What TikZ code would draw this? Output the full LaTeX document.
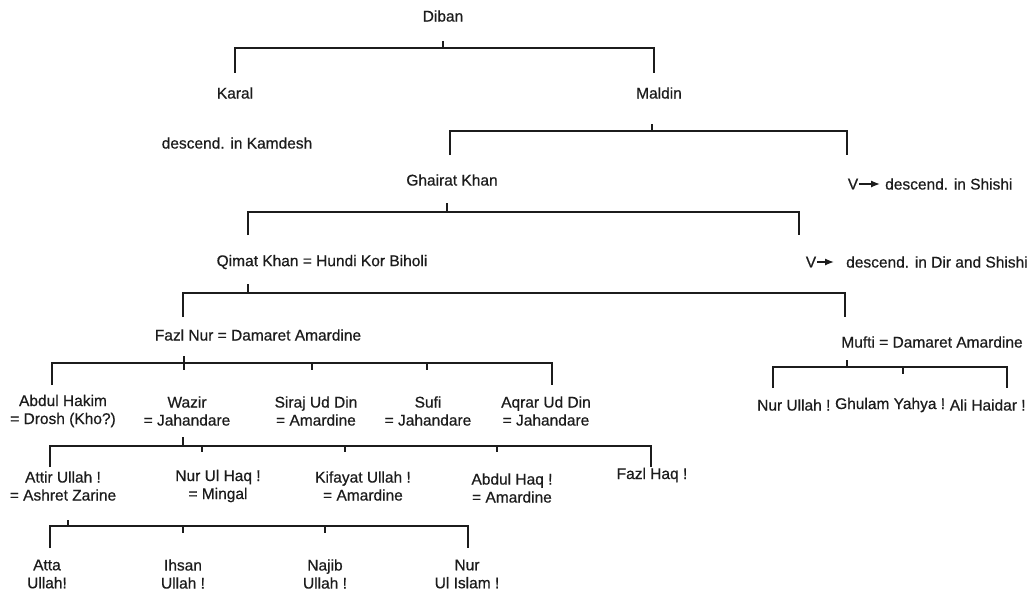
\documentclass[tikz,border=0pt]{standalone}
\usepackage{fontspec}
\setmainfont{Liberation Sans}
\newfontfamily\labelfont{Liberation Sans}[FakeBold=0.6]
\usetikzlibrary{arrows.meta}
\definecolor{ink}{HTML}{1C1C1C}
\begin{document}
\begin{tikzpicture}[x=1pt,y=-1pt,
  lbl/.style={inner sep=1pt, text=ink, font=\labelfont\fontsize{15.5}{18}\selectfont, align=center},
  link/.style={draw=ink, line width=1.3pt},
  tip/.style={-{Latex[length=9pt,width=7pt]}, draw=ink, line width=1.3pt}]
\useasboundingbox (0,0) rectangle (1033,594);

% ---------- people ----------
\node[lbl] (diban) at (443,16) {Diban};
\node[lbl] (karal) at (235,93) {Karal};
\node[lbl] (maldin) at (659,93) {Maldin};
\node[lbl] (kamdesh) at (237,143) {descend. in Kamdesh};
\node[lbl] (ghairat) at (452,180) {Ghairat Khan};
\node[lbl] (v1) at (853,184) {V};
\node[lbl,anchor=west] (shishi) at (884,184) {descend. in Shishi};
\coordinate (a1) at (880,184);
\node[lbl] (qimat) at (322,262) {Qimat Khan = Hundi Kor Biholi};
\node[lbl] (v2) at (811,262) {V};
\node[lbl,anchor=west] (dirshishi) at (845,262) {descend. in Dir and Shishi};
\coordinate (a2) at (834,262);
\node[lbl] (fazl) at (258,335) {Fazl Nur = Damaret Amardine};
\node[lbl] (mufti) at (932,342) {Mufti = Damaret Amardine};

\node[lbl] (hakim) at (63,411) {Abdul Hakim\\= Drosh (Kho?)};
\node[lbl] (wazir) at (187,411) {Wazir\\= Jahandare};
\node[lbl] (siraj) at (316,411) {Siraj Ud Din\\= Amardine};
\node[lbl] (sufi) at (428,411) {Sufi\\= Jahandare};
\node[lbl] (aqrar) at (546,411) {Aqrar Ud Din\\= Jahandare};

\node[lbl,anchor=west] (nurullah) at (756,405) {Nur Ullah !};
\node[lbl,anchor=west] (ghulam) at ([xshift=2.3pt]nurullah.east) {Ghulam Yahya !};
\node[lbl,anchor=west] (alihaidar) at ([xshift=2.3pt]ghulam.east) {Ali Haidar !};

\node[lbl] (attir) at (63,486) {Attir Ullah !\\= Ashret Zarine};
\node[lbl] (nurulhaq) at (218,486) {Nur Ul Haq !\\= Mingal};
\node[lbl] (kifayat) at (363,486) {Kifayat Ullah !\\= Amardine};
\node[lbl] (abdulhaq) at (512,488) {Abdul Haq !\\= Amardine};
\node[lbl] (fazlhaq) at (652,475) {Fazl Haq !};

\node[lbl] (atta) at (47,574) {Atta\\Ullah!};
\node[lbl] (ihsan) at (183,574) {Ihsan\\Ullah !};
\node[lbl] (najib) at (325,574) {Najib\\Ullah !};
\node[lbl] (nurislam) at (467,574) {Nur\\Ul Islam !};

% ---------- arrows ----------
\draw[tip] (v1.east) -- (a1);
\draw[tip] (v2.east) -- (a2);

% ---------- Diban ----------
\coordinate (dibanT) at (443,41);
\coordinate (dibanJ) at (443,48);
\coordinate (karalU) at (235,73);
\coordinate (maldinU) at (654,73);
\draw[link] (dibanT) -- (dibanJ);
\draw[link] (karalU) |- (maldinU |- dibanJ) -- (maldinU);

% ---------- Maldin ----------
\coordinate (maldinT) at (652,124);
\coordinate (maldinJ) at (652,131);
\coordinate (ghairatU) at (450,155);
\coordinate (shishiU) at (847,155);
\draw[link] (maldinT) -- (maldinJ);
\draw[link] (ghairatU) |- (shishiU |- maldinJ) -- (shishiU);

% ---------- Ghairat Khan ----------
\coordinate (ghairatT) at (447,203);
\coordinate (ghairatJ) at (447,212);
\coordinate (qimatU) at (248,235);
\coordinate (dirU) at (799,235);
\draw[link] (ghairatT) -- (ghairatJ);
\draw[link] (qimatU) |- (dirU |- ghairatJ) -- (dirU);

% ---------- Qimat Khan ----------
\coordinate (qimatT) at (248,284);
\coordinate (qimatJ) at (248,293);
\coordinate (fazlU) at (183,317);
\coordinate (muftiU) at (845,317);
\draw[link] (qimatT) -- (qimatJ);
\draw[link] (fazlU) |- (muftiU |- qimatJ) -- (muftiU);

% ---------- Fazl Nur ----------
\coordinate (fazlT) at (184,356);
\coordinate (fazlJ) at (184,363);
\coordinate (hakimU) at (52,385);
\coordinate (wazirU) at (184,370);
\coordinate (sirajU) at (312,370);
\coordinate (sufiU) at (427,370);
\coordinate (aqrarU) at (552,385);
\draw[link] (fazlT) -- (wazirU);
\draw[link] (hakimU) |- (aqrarU |- fazlJ) -- (aqrarU);
\draw[link] (sirajU |- fazlJ) -- (sirajU);
\draw[link] (sufiU |- fazlJ) -- (sufiU);

% ---------- Mufti ----------
\coordinate (muftiT) at (847,360);
\coordinate (muftiJ) at (847,367);
\coordinate (nurullahU) at (773,388);
\coordinate (ghulamU) at (903,374);
\coordinate (alihaidarU) at (1007,388);
\draw[link] (muftiT) -- (muftiJ);
\draw[link] (nurullahU) |- (alihaidarU |- muftiJ) -- (alihaidarU);
\draw[link] (ghulamU |- muftiJ) -- (ghulamU);

% ---------- Wazir ----------
\coordinate (wazirT) at (183,437);
\coordinate (wazirJ) at (183,446);
\coordinate (attirU) at (50,467);
\coordinate (nurulhaqU) at (202,452);
\coordinate (kifayatU) at (345,452);
\coordinate (abdulhaqU) at (497,452);
\coordinate (fazlhaqU) at (651,467);
\draw[link] (wazirT) -- (wazirJ);
\draw[link] (attirU) |- (fazlhaqU |- wazirJ) -- (fazlhaqU);
\draw[link] (nurulhaqU |- wazirJ) -- (nurulhaqU);
\draw[link] (kifayatU |- wazirJ) -- (kifayatU);
\draw[link] (abdulhaqU |- wazirJ) -- (abdulhaqU);

% ---------- Attir Ullah ----------
\coordinate (attirT) at (68,520);
\coordinate (attirJ) at (68,526);
\coordinate (attaU) at (50,548);
\coordinate (ihsanU) at (183,533);
\coordinate (najibU) at (325,533);
\coordinate (nurislamU) at (468,548);
\draw[link] (attirT) -- (attirJ);
\draw[link] (attaU) |- (nurislamU |- attirJ) -- (nurislamU);
\draw[link] (ihsanU |- attirJ) -- (ihsanU);
\draw[link] (najibU |- attirJ) -- (najibU);
\end{tikzpicture}
\end{document}
